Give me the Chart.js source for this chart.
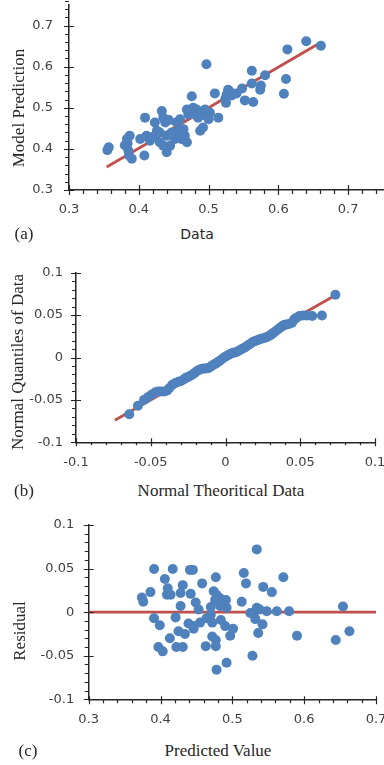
<!DOCTYPE html>
<html>
<head>
<meta charset="utf-8">
<script src="https://cdn.jsdelivr.net/npm/chart.js@4/dist/chart.umd.min.js"></script>
<style>
  html, body { margin: 0; padding: 0; background: #fff; }
  body { width: 384px; height: 765px; overflow: hidden; position: relative; }
  canvas { position: absolute; left: 0; }
  .t { position: absolute; white-space: nowrap; color: #262626; line-height: 1; transform: translate(-50%, -50%); }
  .serif { font-family: "Liberation Serif", "DejaVu Serif", serif; font-size: 17px; }
  .sans { font-family: "DejaVu Sans", sans-serif; font-size: 14px; }
  .rot { transform: translate(-50%, -50%) rotate(-90deg); }
</style>
</head>
<body>
<canvas id="chartA" width="400" height="222" style="top:0px"></canvas>
<canvas id="chartB" width="400" height="215" style="top:262px"></canvas>
<canvas id="chartC" width="400" height="215" style="top:515px"></canvas>

<div class="t serif rot" style="left:18px;top:108px">Model Prediction</div>
<div class="t sans" style="left:197px;top:234px">Data</div>
<div class="t serif" style="left:24px;top:233px">(a)</div>

<div class="t serif rot" style="left:17px;top:362px">Normal Quantiles of Data</div>
<div class="t serif" style="left:221px;top:490px">Normal Theoritical Data</div>
<div class="t serif" style="left:24px;top:490px">(b)</div>

<div class="t serif rot" style="left:19px;top:631px">Residual</div>
<div class="t serif" style="left:218px;top:750px">Predicted Value</div>
<div class="t serif" style="left:28px;top:750px">(c)</div>

<script>
// (a) measured data vs. model prediction
const dataA = [0.355,0.357,0.380,0.383,0.385,0.386,0.387,0.390,0.384,0.402,0.408,0.409,0.411,0.416,
  0.423,0.423,0.426,0.430,0.430,0.433,0.435,0.438,0.440,0.435,0.440,0.445,0.452,0.454,0.459,0.457,
  0.464,0.466,0.461,0.469,0.476,0.471,0.478,0.481,0.485,0.490,0.495,0.502,0.500,0.488,0.492,0.514,
  0.509,0.497,0.526,0.524,0.533,0.525,0.528,0.540,0.548,0.552,0.564,0.562,0.562,0.575,0.574,0.581,
  0.608,0.611,0.613,0.640,0.661,0.469,0.462,0.447,0.474,0.483,0.497,0.418,0.443,0.530];
const predA = [0.397,0.404,0.409,0.424,0.396,0.384,0.432,0.376,0.413,0.424,0.384,0.476,0.432,0.420,
  0.464,0.432,0.444,0.416,0.440,0.492,0.476,0.464,0.432,0.408,0.392,0.408,0.424,0.464,0.472,0.444,
  0.448,0.432,0.424,0.496,0.528,0.484,0.500,0.484,0.476,0.488,0.496,0.488,0.472,0.444,0.452,0.476,
  0.535,0.606,0.532,0.522,0.530,0.512,0.544,0.535,0.547,0.518,0.514,0.559,0.590,0.554,0.544,0.579,
  0.534,0.570,0.642,0.662,0.651,0.416,0.436,0.440,0.492,0.496,0.480,0.428,0.470,0.540];
const fitAx = [0.354, 0.657];
const fitAy = [0.356, 0.655];
const ticksA = [0.3, 0.4, 0.5, 0.6, 0.7];
const labelsA = ['0.3', '0.4', '0.5', '0.6', '0.7'];

// (b) normal probability plot of the residuals
const theoB = [-0.0644,-0.0586,-0.0545,-0.0520,-0.0495,-0.0470,-0.0450,-0.0430,-0.0410,-0.0390,
  -0.0375,-0.0355,-0.0335,-0.0315,-0.0300,-0.0280,-0.0265,-0.0250,-0.0235,-0.0220,-0.0205,-0.0190,
  -0.0175,-0.0160,-0.0145,-0.0130,-0.0115,-0.0100,-0.0085,-0.0070,-0.0055,-0.0040,-0.0025,-0.0010,
  0.0005,0.0020,0.0035,0.0050,0.0065,0.0080,0.0095,0.0110,0.0125,0.0140,0.0155,0.0170,0.0185,0.0200,
  0.0215,0.0230,0.0245,0.0260,0.0275,0.0290,0.0305,0.0320,0.0335,0.0350,0.0365,0.0380,0.0395,0.0410,
  0.0425,0.0445,0.0460,0.0475,0.0495,0.0520,0.0545,0.0580,0.0645,0.0735];
const quantB = [-0.0670,-0.0570,-0.0500,-0.0470,-0.0440,-0.0410,-0.0400,-0.0400,-0.0400,-0.0390,
  -0.0360,-0.0320,-0.0300,-0.0285,-0.0280,-0.0260,-0.0240,-0.0230,-0.0215,-0.0200,-0.0180,-0.0160,
  -0.0145,-0.0135,-0.0130,-0.0130,-0.0125,-0.0110,-0.0090,-0.0075,-0.0060,-0.0040,-0.0020,0.0000,
  0.0015,0.0030,0.0045,0.0055,0.0060,0.0070,0.0085,0.0100,0.0115,0.0130,0.0150,0.0165,0.0185,0.0195,
  0.0205,0.0215,0.0225,0.0230,0.0240,0.0255,0.0270,0.0290,0.0310,0.0330,0.0350,0.0370,0.0385,0.0390,
  0.0395,0.0410,0.0450,0.0470,0.0490,0.0495,0.0495,0.0490,0.0495,0.0740];
const refBx = [-0.074, 0.0735];
const refBy = [-0.074, 0.0735];
const ticksB = [-0.1, -0.05, 0, 0.05, 0.1];
const labelsB = ['-0.1', '-0.05', '0', '0.05', '0.1'];

// (c) residuals against predicted values
const predC = [0.374,0.376,0.386,0.391,0.391,0.399,0.397,0.403,0.406,0.410,0.409,0.414,0.413,0.417,
  0.421,0.422,0.425,0.428,0.431,0.431,0.428,0.434,0.439,0.441,0.445,0.442,0.446,0.446,0.449,0.453,
  0.455,0.458,0.463,0.464,0.470,0.470,0.472,0.472,0.474,0.476,0.477,0.477,0.477,0.478,0.478,0.483,
  0.483,0.484,0.490,0.491,0.492,0.492,0.497,0.501,0.513,0.516,0.519,0.525,0.528,0.530,0.532,0.534,
  0.534,0.538,0.536,0.542,0.543,0.548,0.555,0.562,0.571,0.579,0.590,0.644,0.654,0.663];
const residC = [0.0168,0.012,0.023,0.0496,-0.007,-0.015,-0.040,-0.045,0.038,0.0275,0.020,0.020,-0.030,
  0.0496,-0.006,-0.040,-0.022,0.007,-0.040,0.031,0.022,-0.025,-0.013,0.0485,0.0485,0.021,-0.016,
  -0.019,0.011,0.003,-0.012,0.033,-0.039,-0.007,0.006,-0.003,-0.012,-0.028,0.024,0.014,0.040,-0.032,
  -0.039,-0.066,0.020,0.016,0.007,-0.009,-0.016,0.014,0.005,-0.058,-0.027,-0.019,0.012,0.045,0.033,
  -0.001,-0.050,-0.001,-0.008,0.072,0.005,0.003,-0.024,-0.014,0.029,0.001,0.023,0.001,0.040,0.001,
  -0.027,-0.032,0.0065,-0.022];
const zeroCx = [0.3, 0.7];
const zeroCy = [0, 0];
const ticksCx = [0.3, 0.4, 0.5, 0.6, 0.7];
const labelsCx = ['0.3', '0.4', '0.5', '0.6', '0.7'];
const ticksCy = [-0.1, -0.05, 0, 0.05, 0.1];
const labelsCy = ['-0.1', '-0.05', '0', '0.05', '0.1'];

const BLUE = '#4f81bd';
const RED = '#c0504d';
const AXIS = '#262626';
const TEXT = '#404040';

function zip(xs, ys) {
  const n = Math.min(xs.length, ys.length);
  const out = [];
  for (let i = 0; i < n; i++) out.push({ x: xs[i], y: ys[i] });
  return out;
}

function steps(min, max, step) {
  const out = [];
  const n = Math.round((max - min) / step);
  for (let i = 0; i <= n; i++) out.push(min + i * step);
  return out;
}

// Excel-style tick marks: major ticks crossing the axis, minor ticks outside only
const axisMarks = {
  id: 'axisMarks',
  afterDraw(chart, args, o) {
    const { ctx, chartArea: a } = chart;
    const xs = chart.scales.x, ys = chart.scales.y;
    ctx.save();
    ctx.strokeStyle = AXIS;
    ctx.lineWidth = 1.2;
    ctx.beginPath();
    const xm = (vals, up, down) => vals.forEach(v => {
      const p = Math.round(xs.getPixelForValue(v)) + 0.5;
      ctx.moveTo(p, a.bottom - up); ctx.lineTo(p, a.bottom + down);
    });
    const ym = (vals, inner, outer) => vals.forEach(v => {
      const p = Math.round(ys.getPixelForValue(v)) + 0.5;
      ctx.moveTo(a.left - outer, p); ctx.lineTo(a.left + inner, p);
    });
    if (o.x.minor) xm(steps(xs.min, xs.max, o.x.minor), 0, o.x.minorOut);
    xm(o.x.major, o.x.majorIn, o.x.majorOut);
    if (o.y.minor) ym(steps(ys.min, ys.max, o.y.minor), 0, o.y.minorOut);
    ym(o.y.major, o.y.majorIn, o.y.majorOut);
    ctx.stroke();
    ctx.restore();
  }
};

function makeChart(id, cfg) {
  const font = { family: '"DejaVu Sans", sans-serif', size: 13 };
  return new Chart(document.getElementById(id), {
    type: 'scatter',
    data: {
      datasets: [
        { data: cfg.points, backgroundColor: BLUE, pointBackgroundColor: BLUE,
          pointRadius: 5, pointBorderWidth: 0, order: 1 },
        { data: cfg.line, showLine: true, borderColor: RED, borderWidth: 2.8,
          pointRadius: 0, order: 2 }
      ]
    },
    options: {
      responsive: false,
      animation: false,
      events: [],
      layout: { padding: cfg.padding },
      plugins: { legend: { display: false }, tooltip: { enabled: false },
                 axisMarks: cfg.marks },
      scales: {
        x: {
          type: 'linear', min: cfg.x.min, max: cfg.x.max,
          afterBuildTicks: s => { s.ticks = cfg.x.ticks.map(v => ({ value: v })); },
          afterFit: s => { s.height = cfg.x.size; s.paddingLeft = 0; s.paddingRight = 0; },
          grid: { display: false, drawTicks: false },
          border: { display: true, color: AXIS, width: 1.5 },
          ticks: { font, color: TEXT, padding: cfg.x.pad, autoSkip: false, maxRotation: 0,
                   callback: (v, i) => cfg.x.labels[i] }
        },
        y: {
          type: 'linear', min: cfg.y.min, max: cfg.y.max,
          afterBuildTicks: s => { s.ticks = cfg.y.ticks.map(v => ({ value: v })); },
          afterFit: s => { s.width = cfg.y.size; s.paddingTop = 0; s.paddingBottom = 0; },
          grid: { display: false, drawTicks: false },
          border: { display: true, color: AXIS, width: 1.5 },
          ticks: { font, color: TEXT, padding: cfg.y.pad, autoSkip: false,
                   callback: (v, i) => cfg.y.labels[i] }
        }
      }
    },
    plugins: [axisMarks]
  });
}

makeChart('chartA', {
  points: zip(dataA, predA),
  line: zip(fitAx, fitAy),
  padding: { left: 0, top: 2, right: 17, bottom: 0 },
  x: { min: 0.3, max: 0.75, ticks: ticksA, labels: labelsA, size: 32, pad: 12 },
  y: { min: 0.3, max: 0.75, ticks: ticksA, labels: labelsA, size: 69, pad: 16 },
  marks: { x: { major: ticksA, majorIn: 5, majorOut: 5, minor: 0.02, minorOut: 4 },
           y: { major: ticksA, majorIn: 5, majorOut: 5, minor: 0.02, minorOut: 4 } }
});

makeChart('chartB', {
  points: zip(theoB, quantB),
  line: zip(refBx, refBy),
  padding: { left: 0, top: 10.7, right: 25, bottom: 0 },
  x: { min: -0.1, max: 0.1, ticks: ticksB, labels: labelsB, size: 34.7, pad: 13 },
  y: { min: -0.1, max: 0.1, ticks: ticksB, labels: labelsB, size: 76, pad: 13 },
  marks: { x: { major: ticksB, majorIn: 4, majorOut: 4, minor: 0.01, minorOut: 3 },
           y: { major: ticksB, majorIn: 5, majorOut: 5, minor: 0.01, minorOut: 4 } }
});

makeChart('chartC', {
  points: zip(predC, residC),
  line: zip(zeroCx, zeroCy),
  padding: { left: 0, top: 10, right: 24, bottom: 0 },
  x: { min: 0.3, max: 0.7, ticks: ticksCx, labels: labelsCx, size: 30.7, pad: 12.5 },
  y: { min: -0.1, max: 0.1, ticks: ticksCy, labels: labelsCy, size: 88.7, pad: 14.5 },
  marks: { x: { major: ticksCx, majorIn: 3, majorOut: 5, minor: 0.02, minorOut: 4 },
           y: { major: ticksCy, majorIn: 5, majorOut: 5, minor: 0.01, minorOut: 4 } }
});
</script>
</body>
</html>
